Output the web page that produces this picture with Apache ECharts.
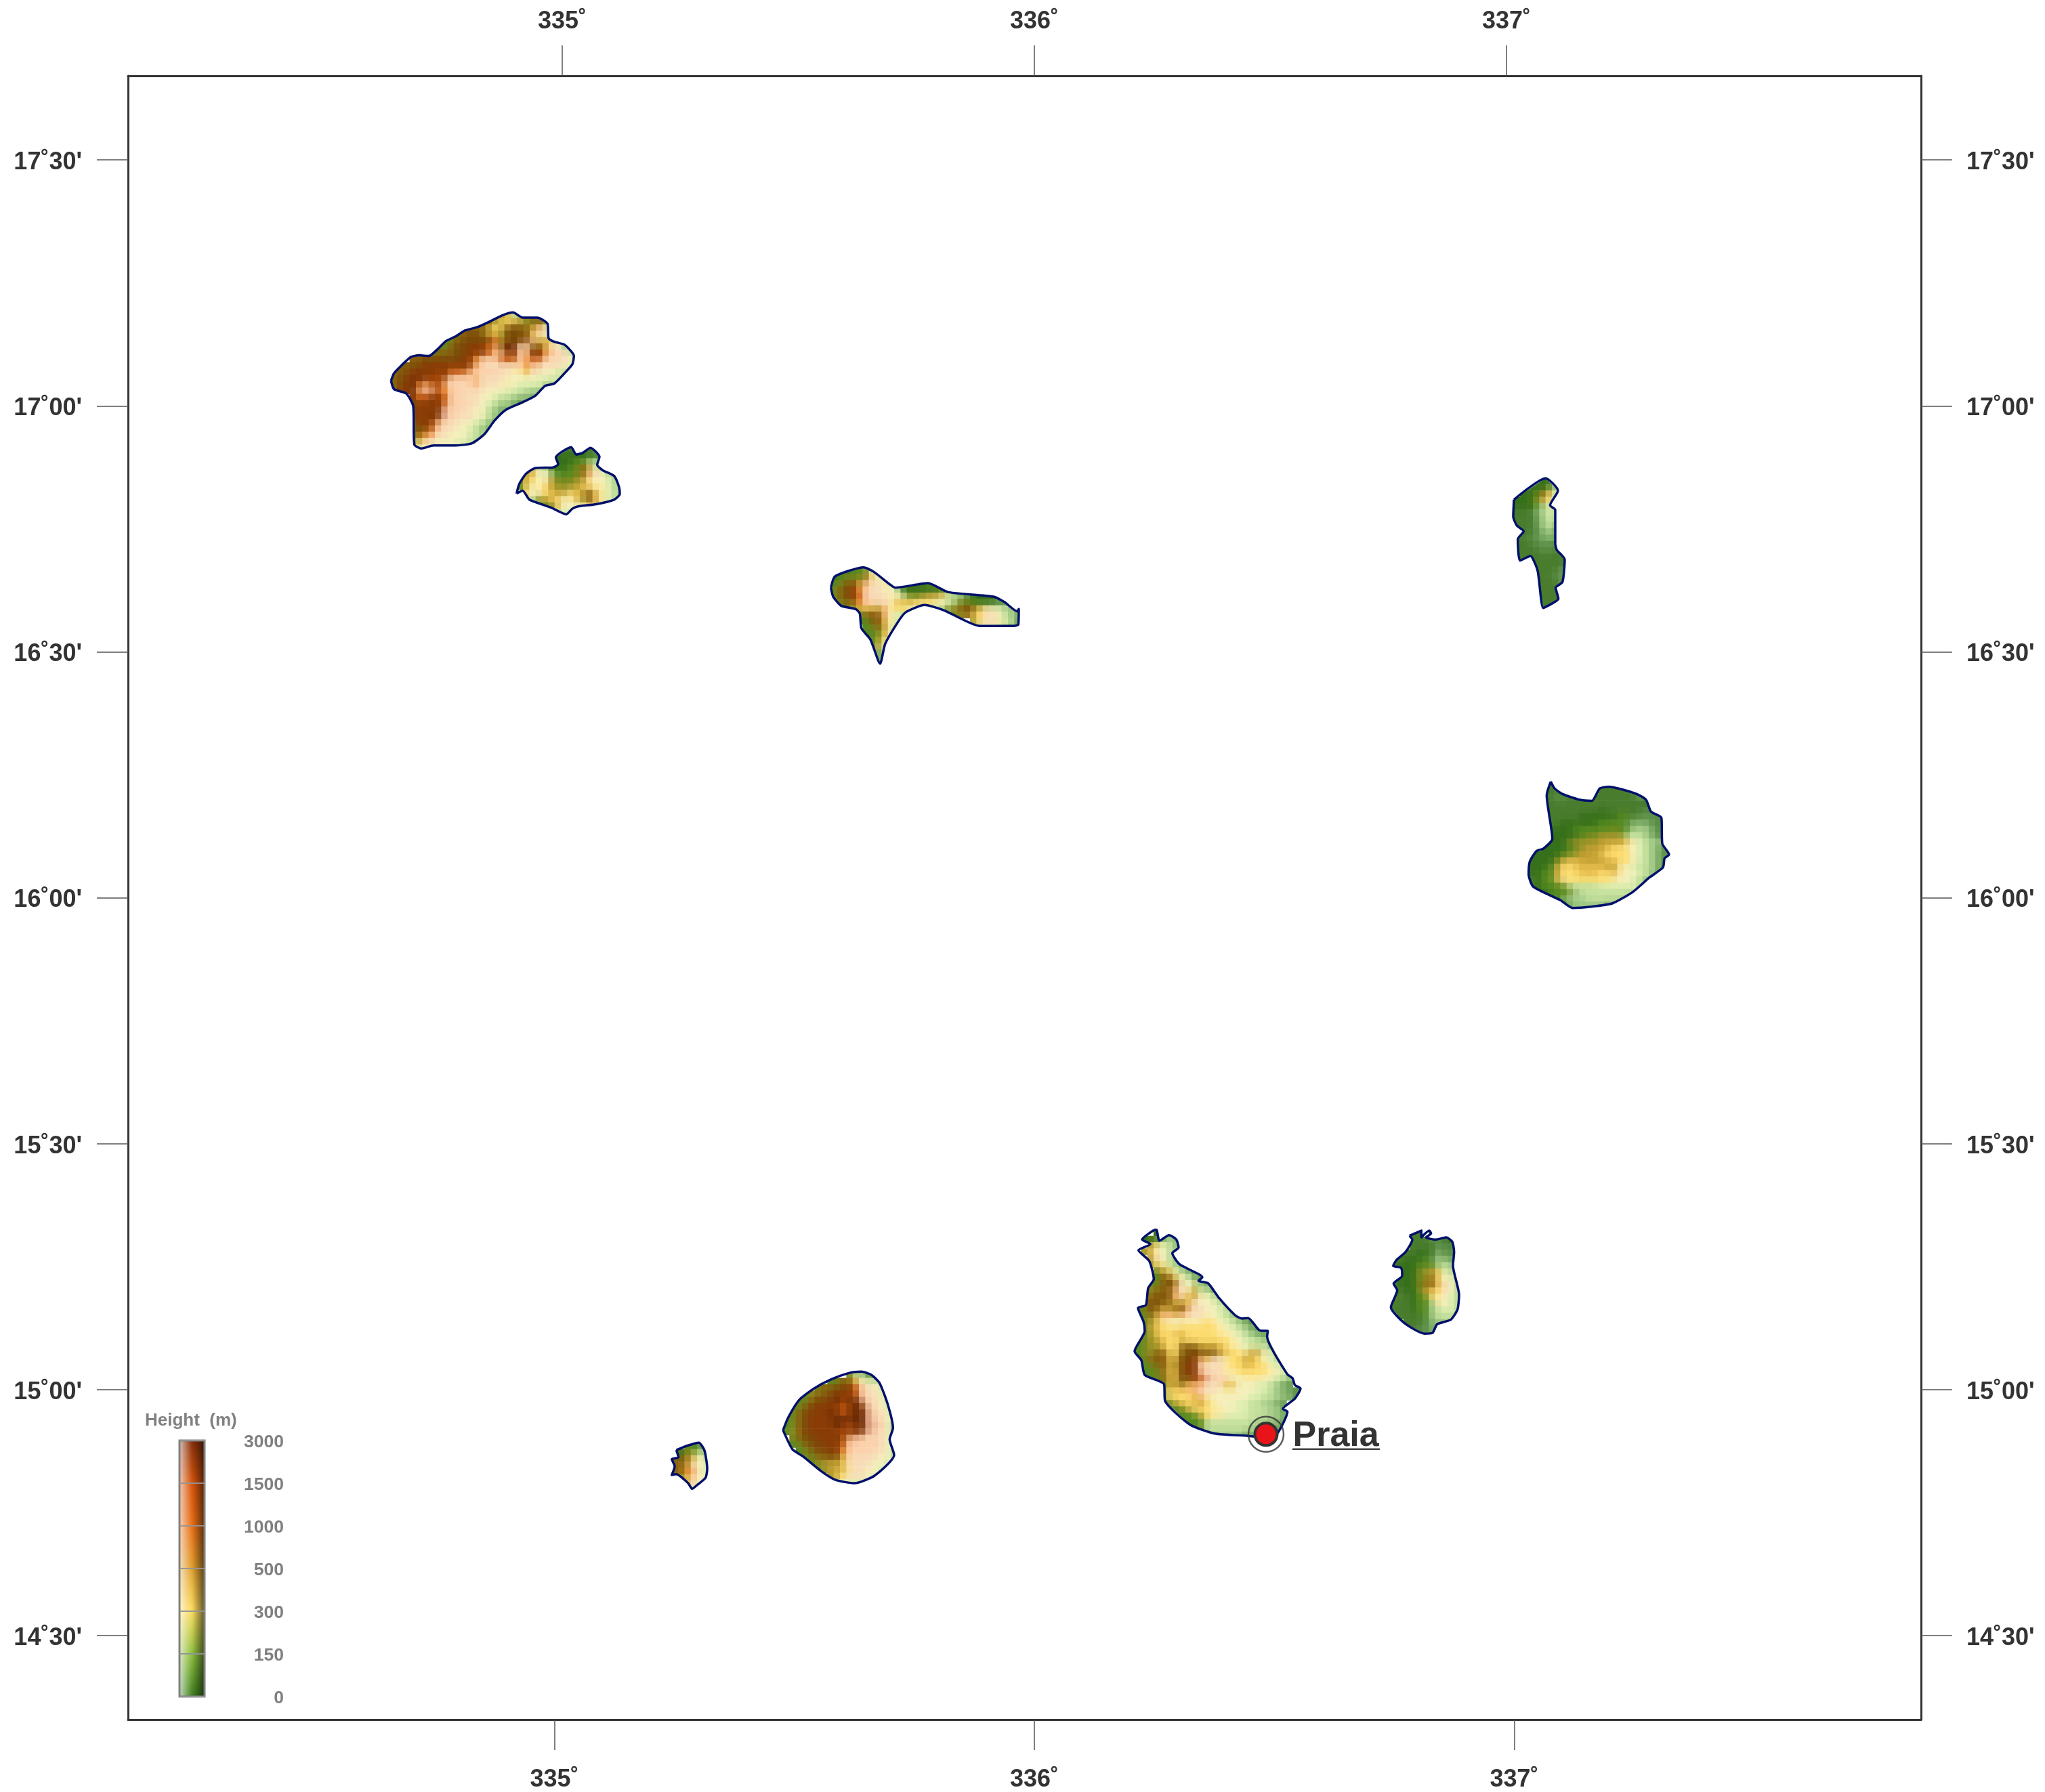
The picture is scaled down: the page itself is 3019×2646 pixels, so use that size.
<!DOCTYPE html>
<html><head><meta charset="utf-8">
<style>html,body{margin:0;padding:0;background:#fff}#c{width:3019px;height:2646px}</style>
<script src="https://cdn.jsdelivr.net/npm/echarts@6/dist/echarts.min.js"></script>
</head><body><div id="c"></div>
<script>
// axis ticks
const lonTicks=[335,336,337];
const lonLabels=["335˚","336˚","337˚"];
const latTicks=[14.5,15,15.5,16,16.5,17,17.5];
const latLabels=["14˚30'","15˚00'","15˚30'","16˚00'","16˚30'","17˚00'","17˚30'"];
const legendLabels=["0","150","300","500","1000","1500","3000"];
const legendStops=["#3f8020","#8fbf3f","#fcdc60","#e0a030","#e87018","#d8550c","#86300c"];
const praia=[336.4827,14.909];
// relief classes (shaded height)
const reliefKeys="ABCDEFGHIJKLMNOPQRSTUVWXYZ";
const reliefColors=["#37701a","#4a7c2e","#5c8f48","#7fae68","#a4cb88","#c4e09c","#dfeeb0","#f5efbc","#fbe9a0","#fcdc70","#e4bc4c","#c4a034","#9c9428","#74881c","#558a20","#8a6410","#7a4c08","#8a3c06","#6e2c06","#c85a10","#ec8224","#f6b070","#fbd0aa","#f8dcb8","#e6ae90","#5a2004"];
// digitised coast: local trace units eastward / southward from an anchor in degrees
const lonPerUnit=1/2125.5, latPerUnit=1/2180.1, cellUnits=28;
const northwestAnchor=[334.6351,17.2198];
const santoAntaoCoast=[[52,368],[65,335],[100,298],[140,262],[175,255],[220,258],[258,228],[295,192],[340,170],[380,145],[435,130],[490,105],[545,78],[592,65],[635,88],[700,88],[745,115],[750,180],[775,195],[820,208],[862,258],[855,295],[820,335],[775,380],[735,390],[690,435],[630,465],[560,497],[510,545],[465,605],[410,645],[330,655],[240,655],[185,668],[155,650],[150,480],[120,425],[65,405],[52,368]];
const santoAntaoOrigin=[50,62];
const santoAntaoRelief=[
".................MKFEOAAB",
"..............PPMKJKLMPPPJG",
"...........PPPPLJKPQPPLVHG",
"..........PPQQPLKMQQQPKXHG",
"........ONPQQQQQTLQQQRWKLKHGE",
".......ONPQQRRRTVQSSWXPQKXHED",
"......NPPPQQRRRTVWRRWVSRUWWXG",
"...PPQQQQQQRRUWWWTTTWVTTXWXXH",
".QPQQRRRRRRRRVWXXXXXWUWWXXXHG",
"PPQRRRRRRTTTVWWWWXXIIKXXHHGF",
"PQRRSRRTRWWWWVXXXXHHHHHGGGF",
"PQRSTVTRVWWXWVXXXHIHGGGGFE",
"PRRSVYYTUWWWXXXHHHGGFFEED",
"...RTTRRTWWXXXHHGFFEEDD",
"...QRRRRTWWWXXHGFEEDC",
"...QRRRRYWWXXHHFEDD",
"...QRRRSYWXXXHHFED",
"...PRRRVWXXHHGFED",
"...PQQTWXXHHGFED",
"...PPUVXXHHHGFE",
"...MKXXHHHHGFF",
"...KGHGGGGF"];
const saoVicenteCoast=[[608,868],[620,825],[650,780],[690,755],[770,752],[792,738],[782,708],[850,662],[872,695],[900,688],[935,665],[975,705],[965,740],[990,765],[1040,790],[1062,840],[1065,870],[1040,895],[960,915],[880,925],[855,935],[828,960],[760,930],[665,895],[635,855],[608,868]];
const saoVicenteOrigin=[608,655];
const saoVicenteRelief=[
".......BBB.BC",
"......AAAAAAACDDC",
"......AAAOOEFDC",
"..LGFOAAONPLGFED",
".LKHHEOOONPVXHFEDC",
"NKJHHLNNNMLIHHGFDC",
"OKHIJLMMMLKJIIGFDC",
".JHHJKLLJKLQKIGFED",
"..FMLKJHIKMQKIGFE",
"...ONMKHHHIJVIGF",
".....NHGGF",
"......FFGF",
".......FF"];
const saoNicolauAnchor=[335.5526,16.6969];
const saoNicolauCoast=[[50,145],[68,95],[195,55],[240,75],[310,130],[335,145],[480,125],[570,165],[770,185],[820,210],[875,250],[882,240],[880,308],[860,315],[710,315],[550,245],[465,222],[380,255],[345,300],[290,395],[268,482],[225,375],[185,325],[178,260],[160,240],[95,225],[60,185],[50,145]];
const saoNicolauOrigin=[50,55];
const saoNicolauRelief=[
".AAOONHG",
"AONNNPJHGF",
"ONPQLVXXIHFAAAAOO",
"NPQRUWXXHHFAAAAAAOOO",
"NPQRTWXXXIHFNNMLLKGFECAAAAAB",
"NNPPUWWXXHKKKJJJIHGENNOAAACCD",
"..NMKKKLVIJJIHHGGFNMPQPKIHGFED",
"....NPQPVHGFF......NMPKJXXHFED",
"....OOPQKIGF..........MJXXIGFDC",
".....ONPLHF............GHGFEDC",
".....OONKIG",
"......OMJG",
"......MLG",
"......ODF",
"......DDE",
"......DDE"];
const salAnchor=[336.9640,16.8758];
const salCoast=[[75,145],[215,50],[270,105],[235,170],[258,190],[258,340],[265,368],[300,410],[290,510],[260,535],[272,585],[245,605],[205,625],[180,460],[148,395],[102,415],[92,320],[118,285],[88,260],[72,220],[75,145]];
const salOrigin=[75,48];
const salRelief=[
"...AAAC",
"..AAAOEF",
".AAOPKGF",
"AAANLJG",
"AAAOEFGF",
"BBBDEGFE",
"BBBCEFFE",
"BBBCEFED",
"BBBCDEDD",
"BBCCDDDD",
"BBBCCCCC",
"BBBBCCBC",
"BBBBBBBBB",
"..BBBBBBB",
"...BBBBCD",
"...BBBCCD",
"...BBBBCD",
"...BBBB",
"....BBBB",
"....BBBB",
"....BB"];
const boaVistaAnchor=[337.0064,16.2566];
const boaVistaCoast=[[148,45],[165,75],[200,100],[275,125],[330,130],[365,75],[405,68],[525,98],[570,125],[592,178],[638,205],[642,320],[672,368],[652,385],[645,425],[585,470],[510,535],[420,585],[320,600],[245,605],[190,570],[70,510],[50,455],[55,400],[85,352],[115,342],[155,298],[130,105],[148,45]];
const boaVistaOrigin=[50,45];
const boaVistaRelief=[
"...BB......BB",
"...BBB.....BBBBBCD",
"...BCCBBBBBBBBBBBCCB",
"...BBBBBBBBBBBBBBBABAB",
"...BBBBBBBBABBBBBBCCCB",
"...BBBBBAAAAAAOOBCCCCB",
"...BBAAAAAAOOOOCDDDCCB",
"...AAAAOOOOOONOOEEEDCB",
"...AAAAAONNMMMMEFFEDCB",
"...AAANMMMMLLLLKHGFEEDC",
"..AAAAONMLLLKJJIHGFEDC",
"AAAAAONMLLLKJJJJHGFEDC",
"AAAANLKKLLLLKKJJHGFEDC",
"AAAOLJJKKKKKLLIHGFFEDC",
"AAOOLJJJKKKJJKIHHGFEDC",
"BAOOKIJJJJJJJIHHGFEDC",
"BAOOONFFFFFGGGGGGFEED",
"AAAOOONEFFFFFFFFFFEE",
"..AAODEEEFFFFFFEED",
"....OODEEEEEDDD",
".......DDDDD"];
const santiagoAnchor=[336.1877,15.3484];
const santiagoCoast=[[132,52],[142,52],[155,100],[198,75],[230,95],[240,130],[212,155],[245,205],[345,262],[328,278],[370,288],[420,355],[490,430],[520,445],[548,443],[600,498],[635,500],[632,525],[720,690],[745,710],[755,740],[780,755],[755,800],[702,845],[722,858],[680,950],[640,975],[550,965],[400,955],[290,915],[180,810],[175,735],[90,695],[75,630],[45,590],[90,500],[85,460],[60,398],[95,385],[105,310],[130,270],[110,190],[62,142],[115,115],[78,95],[132,52]];
const santiagoOrigin=[45,50];
const santiagoRelief=[
"...AA.E",
".AAAEED",
"..LJGFED",
".MKHHFE",
"..LXHFED",
"..MJIFED",
"...NLJGEDC",
"...OPPJHFDC",
"..ONPQPHHFEDC",
"..MPPPVXHLFEDC",
"..PPQPVXKLHHFEDC",
".PPQPPKLKXHHGFED",
"ONQPLLPQVXXHHGFED",
"ONPLVVKVXXXHHGFEDC",
"ONMKIHHHIHIJIHGFEDCC",
"ONLKJJIJJJJJJIHGFEDCCC",
"ONMKJJKKJJJJJIIHGFEDDCB",
"ONMLKJJKJJJJJJJIHGFFEDD",
"ONMMKJJPPPLLLKJIHGGFFED",
"ONMPPKJPQQQPQLKJJILLHGFED",
"ONPPQKLQQRVKXXIJJLKJHGFED",
".ONPPLLQRRWXXXIJJKKJJHGFED",
".OONPKLQRRWWXXIIJJJJJIHGFEC",
"..ONPLKQQRTYWWXHHIIIHHGFED",
"....NLLPKVVXXXKKHHHGGFEDC",
"....OJKJVVXXXHIIHHHGGFEDDCC",
"....OJJJJKVIHHHHHHGGFFEEDC",
"....ONLKJKLJIHHHGGFFEEDC",
"....OOONLJJJIIHHGGFFFEEDC",
"......OOOOLJIIGGGGFFFEEDC",
".......OOOOFFFFFFFFEEEDDC",
".........ONFFFFFFFEEEDDCC",
"...........EEEEEEDDDDDCCC",
"...................DDDCC"];
const maioAnchor=[336.7241,15.3484];
const maioCoast=[[122,78],[175,55],[175,85],[210,55],[218,68],[195,85],[238,95],[285,85],[312,105],[320,150],[315,210],[342,340],[335,405],[305,450],[245,470],[225,508],[190,512],[100,465],[40,395],[68,320],[52,290],[90,255],[85,220],[50,212],[65,185],[105,150],[135,95],[122,78]];
const maioOrigin=[40,55];
const maioRelief=[
"...BB.B",
"...BBBCCBAB",
"...BBBBCCCBB",
"..BBAABDCCB",
"BBAAAOCEDDC",
"BAAAOOOEFEED",
"BAAANMLKGFE",
"BAAANMPJHGFE",
"BAAANPPKXHFE",
"BBAANLKJXHFE",
"OBBAONJIHGFE",
"BBBAOOEIHGFE",
"BBBAOOEFGGFE",
"BBBBBOEFFFFE",
"..BBBCDEEEED",
"...BCCDDDEDD",
".....CDDD"];
const fogoAnchor=[335.4538,15.0594];
const fogoCoast=[[48,310],[70,255],[120,175],[185,125],[260,85],[345,55],[395,50],[440,65],[475,100],[510,190],[535,300],[520,350],[540,420],[455,510],[365,545],[280,530],[215,490],[135,425],[90,395],[48,310]];
const fogoOrigin=[48,50];
const fogoRelief=[
"..........NFEOC",
".......ONPPKHGGE",
".....NPPQQRTWXHG",
"...OMPPQRRRTWXXHF",
"..ONPQQRSRRSYWXHF",
".ONPQRRRRTRSRWXHG",
"ONPQRRRSRTRSSYWXHF",
"ONPQRRRRSSSSSYWXHF",
"ONPQRRRRSSTSSYYWHE",
"OMPQRRRRRTSRRYWXHE",
".NPQQRRRRRVYWXWXHF",
".ONPQQRRRTWWWWWXHF",
"..ONPQQRRUWWWWXXHF",
"...NNPPQQKWXXXXHHF",
"....OMMLLKXXXXHHGF",
".....NMLLKIXXHHGF",
".......MKJXXXHHGF",
".........HGGGGGF"];
const bravaAnchor=[335.2280,14.9080];
const bravaCoast=[[55,68],[105,48],[155,35],[180,70],[192,150],[185,190],[145,225],[125,240],[108,215],[55,175],[35,178],[48,140],[35,108],[65,100],[55,68]];
const bravaOrigin=[35,35];
const bravaRelief=[
"..OOCC",
"AAMNFE",
"PPPJHF",
"PPLXHG",
"PPUVHG",
".MKWHH",
"..KXHH",
"...HH"];

const islands=[
 [northwestAnchor,santoAntaoCoast,santoAntaoOrigin,santoAntaoRelief],
 [northwestAnchor,saoVicenteCoast,saoVicenteOrigin,saoVicenteRelief],
 [saoNicolauAnchor,saoNicolauCoast,saoNicolauOrigin,saoNicolauRelief],
 [salAnchor,salCoast,salOrigin,salRelief],
 [boaVistaAnchor,boaVistaCoast,boaVistaOrigin,boaVistaRelief],
 [santiagoAnchor,santiagoCoast,santiagoOrigin,santiagoRelief],
 [maioAnchor,maioCoast,maioOrigin,maioRelief],
 [fogoAnchor,fogoCoast,fogoOrigin,fogoRelief],
 [bravaAnchor,bravaCoast,bravaOrigin,bravaRelief]
];
const FONT='"Liberation Sans",Arial,sans-serif';
const INK='#333333', GREY='#808080';
const cellLon=cellUnits*lonPerUnit, cellLat=cellUnits*latPerUnit;
const toGeo=(a,p)=>[a[0]+p[0]*lonPerUnit,a[1]-p[1]*latPerUnit];
const rgbOf=h=>[parseInt(h.slice(1,3),16),parseInt(h.slice(3,5),16),parseInt(h.slice(5,7),16)];
const reliefRgb=reliefColors.map(rgbOf);
// soft tint of a cell: its class colour softened by the classes of its direct neighbours
function tintOf(relief,r,i){
  const at=(rr,ii)=>{const row=relief[rr];if(!row)return -1;const c=row[ii];return c?reliefKeys.indexOf(c):-1;};
  const sum=[0,0,0];let w=0;
  [[0,0,3],[-1,0,1],[1,0,1],[0,-1,1],[0,1,1]].forEach(([dr,di,wt])=>{
    const k=at(r+dr,i+di);
    if(k<0)return;
    const c=reliefRgb[k];sum[0]+=c[0]*wt;sum[1]+=c[1]*wt;sum[2]+=c[2]*wt;w+=wt;
  });
  return 'rgb('+sum.map(v=>Math.round(v/w)).join(',')+')';
}

const series=[];
islands.forEach(([anchor,coast,origin,relief])=>{
  const geoCoast=coast.map(p=>toGeo(anchor,p));
  const cells=[], tints=[];
  relief.forEach((row,r)=>{
    for(let i=0;i<row.length;i++){
      const k=reliefKeys.indexOf(row[i]);
      if(k<0) continue;
      const g=toGeo(anchor,[origin[0]+i*cellUnits,origin[1]+r*cellUnits]);
      cells.push([g[0],g[1],k]);
      tints.push(tintOf(relief,r,i));
    }
  });
  series.push({type:'custom',coordinateSystem:'cartesian2d',xAxisIndex:0,yAxisIndex:0,z:2,silent:true,clip:false,
    progressive:0,animation:false,data:cells,encode:{x:0,y:1},
    renderItem:(params,api)=>{
      const p=api.coord([api.value(0),api.value(1)]);
      const s=api.size([cellLon,cellLat]);
      const pts=geoCoast.map(c=>api.coord(c));
      return {type:'rect',shape:{x:p[0],y:p[1],width:s[0]+0.7,height:s[1]+0.7},
        style:{fill:tints[params.dataIndex]},
        clipPath:{type:'polygon',shape:{points:pts}}};
    }});
  series.push({type:'line',xAxisIndex:0,yAxisIndex:0,z:3,silent:true,clip:false,animation:false,
    showSymbol:false,symbol:'none',smooth:0.2,data:geoCoast,
    lineStyle:{color:'#00106b',width:3.5,join:'round'}});
});
// legend colour bar
series.push({type:'custom',coordinateSystem:'cartesian2d',xAxisIndex:2,yAxisIndex:2,z:2,silent:true,clip:false,animation:false,
  data:legendStops.slice(0,-1).map((c,i)=>[0,i,legendStops[i],legendStops[i+1]]),encode:{x:0,y:1},
  renderItem:(params,api)=>{
    const i=api.value(1);
    const a=api.coord([0,i+1]), b=api.coord([1,i]);
    const shape={x:a[0],y:a[1],width:b[0]-a[0],height:b[1]-a[1]+0.5};
    const kids=[
      {type:'rect',shape,style:{fill:{type:'linear',x:0,y:0,x2:0,y2:1,colorStops:[{offset:0,color:api.value(3)},{offset:1,color:api.value(2)}]}}},
      {type:'rect',shape,style:{fill:{type:'linear',x:0,y:0,x2:1,y2:0,colorStops:[
        {offset:0,color:'rgba(255,255,255,0.68)'},{offset:0.5,color:'rgba(255,255,255,0)'},
        {offset:0.5,color:'rgba(0,0,0,0)'},{offset:1,color:'rgba(0,0,0,0.6)'}]}}}
    ];
    if(i===legendStops.length-2){
      const t=api.coord([0,legendStops.length-1]), u=api.coord([1,0]);
      kids.push({type:'rect',z2:5,shape:{x:t[0],y:t[1],width:u[0]-t[0],height:u[1]-t[1]},style:{fill:'none',stroke:GREY,lineWidth:3}});
    }
    return {type:'group',children:kids};
  }});
// Praia
series.push({type:'scatter',xAxisIndex:0,yAxisIndex:0,z:6,silent:true,clip:false,animation:false,data:[praia],symbolSize:52,
  itemStyle:{color:'rgba(0,0,0,0)',borderColor:'#333333',borderWidth:2.5}});
series.push({type:'scatter',xAxisIndex:0,yAxisIndex:0,z:7,silent:true,clip:false,animation:false,data:[praia],symbolSize:33,
  itemStyle:{color:'#e8141a',borderColor:INK,borderWidth:4,opacity:1},
  label:{show:true,position:'right',distance:21,offset:[0,3],formatter:'Praia',color:INK,fontFamily:FONT,fontWeight:'bold',fontSize:52}});
series.push({type:'custom',coordinateSystem:'cartesian2d',xAxisIndex:0,yAxisIndex:0,z:7,silent:true,clip:false,animation:false,
  data:[praia],encode:{x:0,y:1},renderItem:(params,api)=>{
    const p=api.coord([api.value(0),api.value(1)]);
    return {type:'line',shape:{x1:p[0]+39,y1:p[1]+22,x2:p[0]+168,y2:p[1]+22},style:{stroke:'#444444',lineWidth:2.5}};
  }});

const lonLabel=v=>{const i=lonTicks.indexOf(Math.round(v));return i<0?'':lonLabels[i];};
const latLabel=v=>{const i=latTicks.indexOf(Math.round(v*2)/2);return i<0?'':'{a|'+latLabels[i]+'}';};
const frame={show:true,onZero:false,lineStyle:{color:INK,width:3}};
const tick={show:true,length:45,customValues:lonTicks,lineStyle:{color:'#555555',width:1.5}};
const ltick={show:true,length:46,customValues:latTicks,lineStyle:{color:'#555555',width:1.5}};
const lab={fontFamily:FONT,fontWeight:'bold',fontSize:36,color:INK};
const latRich={a:{...lab,padding:[8,0,0,0]}};
const legendStyle={fontFamily:FONT,fontWeight:'bold',fontSize:26.5,color:GREY};
const option={
  animation:false,backgroundColor:'#ffffff',
  title:{text:'Height  (m)',left:214,top:2085,padding:0,textStyle:{fontFamily:FONT,fontWeight:'bold',fontSize:26,color:GREY}},
  grid:[{left:189,top:112,width:2647,height:2430,show:false},{left:265,top:2127,width:37,height:378,show:false}],
  xAxis:[
   {type:'value',gridIndex:0,position:'bottom',min:334.1115,max:337.8476,axisLine:frame,axisTick:tick,splitLine:{show:false},
    axisLabel:{...lab,margin:71,customValues:lonTicks,formatter:lonLabel}},
   {type:'value',gridIndex:0,position:'top',min:334.0803,max:337.878,axisLine:frame,axisTick:tick,splitLine:{show:false},
    axisLabel:{...lab,margin:62,customValues:lonTicks,formatter:lonLabel}},
   {type:'value',gridIndex:1,min:0,max:1,show:false}
  ],
  yAxis:[
   {type:'value',gridIndex:0,position:'left',min:14.329,max:17.671,axisLine:frame,axisTick:ltick,splitLine:{show:false},
    axisLabel:{...lab,margin:68,customValues:latTicks,formatter:latLabel,rich:latRich}},
   {type:'value',gridIndex:0,position:'right',min:14.329,max:17.671,axisLine:frame,axisTick:ltick,splitLine:{show:false},
    axisLabel:{...lab,margin:67,customValues:latTicks,formatter:latLabel,rich:latRich}},
   {type:'value',gridIndex:1,position:'right',min:0,max:6,interval:1,z:5,axisLine:{show:false},
    axisTick:{show:true,length:38,lineStyle:{color:'#999999',width:1.5}},
    splitLine:{show:true,lineStyle:{color:GREY,width:1.5}},
    axisLabel:{...legendStyle,margin:117,align:'right',rich:{a:{...legendStyle,padding:[6,0,0,0]}},
      formatter:v=>'{a|'+legendLabels[Math.round(v)]+'}'}}
  ],
  series
};
const chart=echarts.init(document.getElementById('c'),null,{renderer:'canvas'});
chart.setOption(option);
</script></body></html>
